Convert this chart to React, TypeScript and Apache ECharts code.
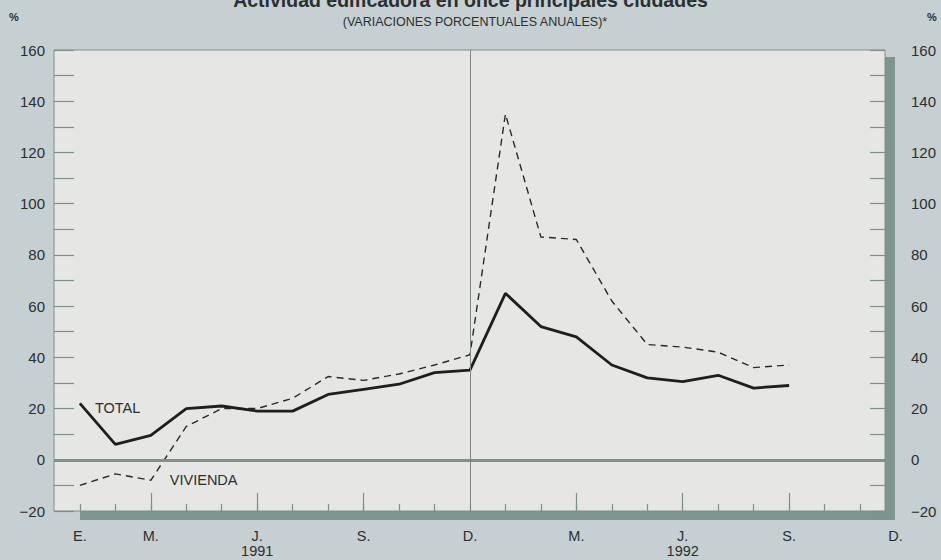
import React, { useEffect, useRef } from "react";
import * as echarts from "echarts";

// Month index: 0 = enero 1991 ... 23 = diciembre 1992
const months = [0, 1, 2, 3, 4, 5, 6, 7, 8, 9, 10, 11, 12, 13, 14, 15, 16, 17, 18, 19, 20];
const totalValues = [22, 6, 9.5, 20, 21, 19, 19, 25.5, 27.5, 29.5, 34, 35, 65, 52, 48, 37, 32, 30.5, 33, 28, 29];
const viviendaValues = [-10, -5.5, -8, 13, 20, 20, 24, 32.5, 31, 33.5, 37, 41, 135, 87, 86, 62, 45, 44, 42, 36, 37];

const monthLabelValues = [0, 2, 5, 8, 11, 14, 17, 20, 23];
const monthLabelTexts: Record<number, string> = {
  0: "E.", 2: "M.", 5: "J.\n1991", 8: "S.", 11: "D.", 14: "M.", 17: "J.\n1992", 20: "S.", 23: "D.",
};
const minorTickValues = [0, 1, 2, 3, 4, 5, 6, 7, 8, 9, 10, 11, 12, 13, 14, 15, 16, 17, 18, 19, 20, 21, 22];
const majorTickValues = [2, 5, 8, 14, 17, 20];

const titleText = "Actividad edificadora en once principales ciudades";
const subtitleText = "(VARIACIONES PORCENTUALES ANUALES)*";

const FONT = "'Liberation Sans', Arial, Helvetica, sans-serif";
const TXT = "#2a302e";
const AXIS = "#7f8f8a";
const BAND = "#7d958f";

function yLabel(v: number) {
  if (v % 20 !== 0) return "";
  return v < 0 ? "\u2212" + Math.abs(v) : String(v);
}

export default function App() {
  const ref = useRef<HTMLDivElement>(null);
  useEffect(() => {
    if (!ref.current) return;
    const chart = echarts.init(ref.current, undefined, { renderer: "svg" });
    const totalData = months.map((m, i) =>
      i === 0
        ? { value: [m, totalValues[i]], label: { show: true, formatter: "TOTAL", position: "right", distance: 15, offset: [0, 5] } }
        : [m, totalValues[i]]
    );
    const viviendaData = months.map((m, i) =>
      i === 2
        ? { value: [m, viviendaValues[i]], label: { show: true, formatter: "VIVIENDA", position: "right", distance: 19, offset: [0, 0] } }
        : [m, viviendaValues[i]]
    );
    const labelStyle = { show: false, color: TXT, fontSize: 14.5, fontFamily: FONT };
    chart.setOption({
      animation: false,
      backgroundColor: "#c6cfd1",
      title: [
        { text: titleText, left: "center", top: -15, textStyle: { fontSize: 19.5, fontWeight: "bold", color: TXT, fontFamily: FONT } },
        { text: subtitleText, left: 470, textAlign: "center", top: 10, textStyle: { fontSize: 12.5, fontWeight: "normal", color: TXT, fontFamily: FONT } },
      ],
      graphic: [
        { type: "rect", z: -10, shape: { x: 885, y: 57, width: 10, height: 463 }, style: { fill: BAND } },
        { type: "rect", z: -10, shape: { x: 80, y: 511, width: 815, height: 9 }, style: { fill: BAND } },
        { type: "rect", z: -9, shape: { x: 54, y: 50, width: 831, height: 461 }, style: { fill: "#e6e7e5", stroke: AXIS, lineWidth: 1 } },
        { type: "text", x: 14, y: 17, style: { text: "%", fill: TXT, fontSize: 11, fontWeight: "bold", fontFamily: FONT, align: "center", verticalAlign: "middle" } },
        { type: "text", x: 932, y: 17, style: { text: "%", fill: TXT, fontSize: 11, fontWeight: "bold", fontFamily: FONT, align: "center", verticalAlign: "middle" } },
      ],
      grid: { left: 54, top: 50, right: 45.5, bottom: 49, containLabel: false },
      xAxis: [
        {
          type: "value", min: -0.73, max: 23, position: "bottom",
          axisLine: { show: false, onZero: false }, splitLine: { show: false },
          axisTick: { show: true, inside: true, length: 7, customValues: minorTickValues, lineStyle: { color: AXIS, width: 1.2 } },
          axisLabel: {
            show: true, customValues: monthLabelValues, margin: 17, color: TXT, fontSize: 14.5, fontFamily: FONT, lineHeight: 15,
            formatter: (v: number) => monthLabelTexts[v] ?? "",
          },
        },
        {
          type: "value", min: -0.73, max: 23, position: "bottom",
          axisLine: { show: false, onZero: false }, splitLine: { show: false },
          axisTick: { show: true, inside: true, length: 18, customValues: majorTickValues, lineStyle: { color: AXIS, width: 1.2 } },
          axisLabel: { show: false },
        },
      ],
      yAxis: [
        {
          type: "value", min: -20, max: 160, interval: 10, position: "left",
          axisLine: { show: false, onZero: false }, splitLine: { show: false },
          axisTick: { show: true, inside: true, length: 20, lineStyle: { color: AXIS, width: 1.2 } },
          axisLabel: { margin: 9, color: TXT, fontSize: 15, fontFamily: FONT, formatter: yLabel },
        },
        {
          type: "value", min: -20, max: 160, interval: 10, position: "right", offset: -10.5,
          axisLine: { show: false, onZero: false }, splitLine: { show: false },
          axisTick: { show: true, inside: true, length: 15, lineStyle: { color: AXIS, width: 1.2 } },
          axisLabel: { margin: 26, color: TXT, fontSize: 15, fontFamily: FONT, formatter: yLabel },
        },
      ],
      series: [
        {
          name: "VIVIENDA", type: "line", data: viviendaData, showSymbol: true, symbol: "circle", symbolSize: 0,
          lineStyle: { color: "#262b29", width: 1.4, type: [7, 5] },
          itemStyle: { color: "#262b29" },
          label: labelStyle,
          markLine: {
            silent: true, symbol: "none", label: { show: false },
            data: [
              [{ coord: [-0.73, 0], lineStyle: { color: "#7f918c", width: 3, type: "solid" } }, { coord: [22.72, 0] }],
              { xAxis: 11, lineStyle: { color: "#7f8784", width: 1, type: "solid" } },
            ],
          },
        },
        {
          name: "TOTAL", type: "line", data: totalData, showSymbol: true, symbol: "circle", symbolSize: 0,
          lineStyle: { color: "#1c1f1e", width: 2.8 },
          itemStyle: { color: "#1c1f1e" },
          label: labelStyle,
        },
      ],
    });
    return () => chart.dispose();
  }, []);
  return <div ref={ref} style={{ position: "fixed", left: 0, top: 0, width: 941, height: 560 }} />;
}
